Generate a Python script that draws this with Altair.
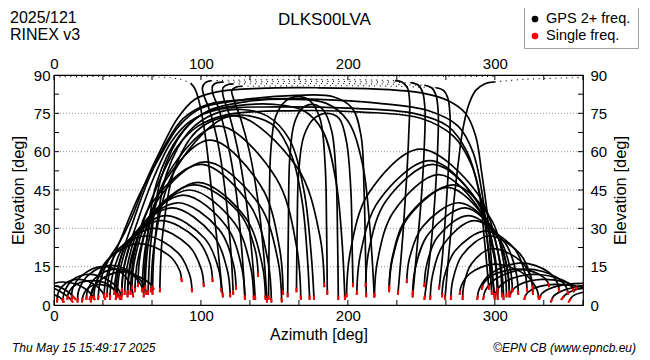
import math
import altair as alt
import pandas as pd

# ---------------- text ----------------
TITLE = "DLKS00LVA"
DOY = "2025/121"
RINEX = "RINEX v3"
LEG_DUAL = "GPS 2+ freq."
LEG_SINGLE = "Single freq."
FOOT_DATE = "Thu May 15 15:49:17 2025"
FOOT_COPY = "©EPN CB (www.epncb.eu)"
X_TITLE = "Azimuth [deg]"
Y_TITLE = "Elevation [deg]"

AZ_LABELS = [0, 100, 200, 300]
EL_LABELS = [0, 15, 30, 45, 60, 75, 90]
GRID_EL = [15, 30, 45, 60, 75]
AZ_TICKS = [0, 33.3, 66.7, 100, 133.3, 166.7, 200, 233.3, 266.7, 300, 333.3, 360]
EL_TICKS = [7.5, 15, 22.5, 30, 37.5, 45, 52.5, 60, 67.5, 75, 82.5]

# ---------------- satellite tracks (azimuth, elevation) ----------------
S1 = [(2,1),(3,5),(8,8.5),(16,10),(26,8.5),(33,5),(35,2)]
S2 = [(6,1),(7,5),(13,10),(24,12),(36,10),(44,6),(46,2)]
S3 = [(12,2),(13,7),(20,12),(32,15),(45,13),(52,8),(54,3)]
S4 = [(16,1),(17,6),(24,12),(38,15.5),(52,13),(61,8),(63,4)]
S5 = [(22,2),(23,6),(29,11),(41,14),(53,12),(59,8),(61,5)]
S6 = [(25,1),(26,6),(32,10),(45,13),(58,11),(66,8),(68,6)]
S7 = [(9,2),(10,5),(15,8),(26,9.5),(37,8),(42,5),(43,3)]
S8 = [(19,1),(20,4),(24,7),(32,8),(40,6.5),(44,4),(45,2)]

E1 = [(0,8.5),(6,9),(16,8),(24,5),(28,2)]
E2 = [(0,7.5),(4,7),(10,5),(15,2)]
E3 = [(0,6.5),(5,5),(10,3),(13,1)]
E4 = [(0,4),(4,3),(7,1)]

A1 = [(27,2),(28.5,8.6),(36,17.4),(57,24),(78,19.5),(85.5,13.5),(87,9)]
A2 = [(30,2),(31.6,9.5),(39.6,19.5),(62,27),(84.4,20.4),(92.4,11.6),(94,5)]
A3 = [(34,3),(35.7,11.1),(44.2,21.9),(68,30),(91.8,23.1),(100.3,13.9),(102,7)]
A4 = [(38,2),(39.7,11.3),(48.2,23.7),(72,33),(97.2,25.8),(106.2,16.2),(108,9)]
A5 = [(41,4),(42.75,13.3),(51.5,25.7),(76,35),(102.6,26),(112.1,14),(114,5)]
A6 = [(43,3),(44.85,13.5),(54.1,27.5),(80,38),(108,27.5),(118,13.5),(120,3)]
A7 = [(46,5),(47.9,15.5),(57.4,29.5),(84,40),(112,29.8),(122,16.2),(124,6)]
A8 = [(48,4),(50,15.7),(60,31.3),(88,43),(117.4,30.7),(127.9,14.3),(130,2)]
A9 = [(50,3),(52.1,15.6),(62.6,32.4),(92,45),(122.8,32.1),(133.8,14.9),(136,2)]
A10 = [(53,6),(55.1,18.3),(65.6,34.7),(95,47),(125.8,36.2),(136.8,21.8),(139,11)]
A11 = [(55,5),(57.15,17.9),(67.9,35.1),(98,48),(130.2,34.2),(141.7,15.8),(144,2)]
A12 = [(52,4),(54.4,19.3),(66.4,39.7),(100,55),(133.6,38.8),(145.6,17.2),(148,1)]
A13 = [(57,7),(59.3,21.7),(70.8,41.3),(103,56),(139.4,39.5),(152.4,17.5),(155,1)]
A14 = [(60,5),(62.3,22.9),(73.8,46.7),(106,64.5),(141,46.4),(153.5,22.2),(156,4)]
A15 = [(62,6),(64.5,25.2),(77,50.8),(112,70),(151.2,49.6),(165.2,22.4),(168,2)]
A16 = [(66,5),(68.8,25.7),(82.8,53.3),(122,74),(165.4,53.9),(180.9,27.1),(184,7)]
A17 = [(64,4),(66,25),(73,50),(88,68),(105,76),(130,79.5),(160,80.5),(185,79),(200,72),(210,55),(215,30),(218,3)]
A18 = [(61,3),(63,24),(70,48),(85,66),(102,75),(125,78),(150,78.5),(170,76),(183,68),(192,48),(196,25),(198,2)]
A19 = [(67,4),(69,27),(77,52),(92,68),(110,75),(128,76.5),(145,74),(160,65),(170,45),(175,20),(177,2)]
A20 = [(72,5),(74,28),(82,53),(97,68),(115,73.5),(133,74),(150,70),(162,58),(169,40),(172.5,18),(174,2)]

C1 = [(146,2),(146.5,30),(147.5,60),(151,74),(158,80),(166,81.5),(174,80),(181,73),(184.5,55),(185.5,30),(186,4)]
C2 = [(159,3),(159.5,30),(160.5,58),(163.5,71),(169,77),(176,78.5),(183,76.5),(189,68),(192,50),(193,25),(193.5,2)]
C4 = [(165,5),(165.5,30),(166.5,52),(170,66),(177,73),(186,75),(194,73),(199,64),(202,45),(203,20),(203.5,7)]

H1 = [(42,2),(44,15),(54,33),(65,50),(76,63),(88,73),(105,78.5),(140,80.5),(180,80.5),(220,79),(255,76),(275,70),(285,60),(291,45),(295,25),(298,4)]
H2 = [(46,3),(48,16),(57,33),(68,50),(80,64),(93,72),(112,76.5),(150,77.5),(200,77),(245,75),(268,70),(281,60),(289,45),(293,25),(296,6)]
H3 = [(50,4),(52,17),(61,33),(72,49),(84,62),(98,70),(118,74.5),(160,76),(210,75.5),(250,73),(272,66),(284,55),(291,40),(296,20),(300,3)]
H4 = [(36,3),(38,14),(47,28),(58,43),(72,58),(85,70),(100,77),(125,80),(165,82),(190,81.5),(203,77),(209,66),(211,45),(212,20),(212.5,3)]
H5 = [(24,2),(33,14),(45,25),(52,33),(63,49),(72,60),(84,73),(96,80.5),(112,83.5),(140,84.8),(180,85),(220,84.5),(250,83),(268,80),(280,75),(287,66),(291,52),(295,35),(298,15),(300,2)]

O1L = [(122,4),(120.5,20),(117,42),(112,62),(106,76),(102,82),(101,85),(103,87),(107,87.8)]
O1T = [(107,87.8),(150,88.2),(200,88.2),(232,87.8)]
O1R = [(232,87.8),(237,87.2),(240.5,85),(242,80),(241.5,68),(240,50),(237.5,28),(234,4)]
O2L = [(130,2),(128,20),(124,44),(118,64),(112,77),(108,83),(108,85.8),(111,87),(115,87.2)]
O2T = [(115,87.2),(160,87.5),(210,87.4),(243,87)]
O2R = [(243,87),(248,86),(251,83),(252.5,76),(252,62),(250,42),(247,22),(244,3)]
O3L = [(137,2),(135,18),(131,40),(125,61),(119,75),(115,82),(115,85),(118,86.2),(122,86.5)]
O3T = [(122,86.5),(170,86.7),(220,86.5),(252,86)]
O3R = [(252,86),(257,85),(260,82),(261.5,75),(261,60),(259,40),(256,20),(252,2)]
O4L = [(145,1),(143,18),(139,40),(133,60),(127,73),(122,81),(121,84),(124,85.3),(128,85.6)]
O4T = [(128,85.6),(180,85.8),(230,85.6),(260,85)]
O4R = [(260,85),(265,84),(268,81),(269.5,74),(269,60),(267,40),(264.5,20),(262,6)]

D1T = [(0,89.3),(40,89.4),(72,89.2),(86,88.3),(93,86.8)]
D1L = [(93,86.8),(96,84.5),(99,79),(103,66),(107,46),(111,25),(114,8),(115,3)]
DT5 = [(100,89.5),(150,89.6),(250,89.6),(300,89.4)]

ZR1 = [(266,2),(269,22),(272,40),(275,55),(278,68),(282,78),(287,84),(293,86.5),(300,87.3)]
ZR1T = [(300,87.3),(320,88.3),(345,88.8),(360,89)]

B1 = [(199,3),(201.5,20.4),(214,43.6),(249,61),(288.2,43.6),(302.2,20.4),(305,3)]
B2 = [(206,4),(208.5,19.8),(221,40.8),(256,56.5),(288.2,40.2),(299.7,18.4),(302,2)]
B3 = [(212,7),(214.3,21.4),(225.8,40.6),(258,55),(288.8,40),(299.8,20),(302,5)]
B4 = [(218,3),(220.2,17.4),(231.2,36.6),(262,51),(290,36.9),(300,18.1),(302,4)]
B5 = [(228,5),(230.2,17.6),(241.2,34.4),(272,47),(297.2,33.8),(306.2,16.2),(308,3)]
B6 = [(228,6),(230,18),(240,34),(268,46),(294.6,32.8),(304.1,15.2),(306,2)]
B7 = [(240,8.6),(241.8,18),(250.8,30.6),(276,40),(299.8,29.2),(308.3,14.8),(310,4)]
B8 = [(244,4),(245.8,14.2),(254.8,27.8),(280,38),(301,27.5),(308.5,13.5),(310,3)]
B9 = [(252,7),(253.5,15.4),(261,26.6),(282,35),(303,26),(310.5,14),(312,5)]
B10 = [(256,2),(257.5,11.3),(265,23.7),(286,33),(307,24.3),(314.5,12.7),(316,4)]
B11 = [(264,3),(265.5,10.8),(273,21.2),(294,29),(313.6,21.8),(320.6,12.2),(322,5)]
B12 = [(270,2),(271.3,9.5),(277.8,19.5),(296,27),(317,20.1),(324.5,10.9),(326,4)]
B13 = [(278,2),(279,8),(284,16),(298,22),(317.6,17.2),(324.6,10.8),(326,6)]
B14 = [(288,2),(289.5,6.4),(297,12.2),(318,16.5),(336.2,13),(342.7,8.5),(344,5)]
B15 = [(292,2),(293.5,5.6),(301,10.4),(322,14),(341.6,11),(348.6,7),(350,4)]
B16 = [(300,3),(301.3,5.7),(307.8,9.3),(326,12),(345.6,9.9),(352.6,7.1),(354,5)]
B17 = [(310,3),(311.1,5.1),(316.6,7.9),(332,10),(348.8,8.8),(354.8,7.2),(356,6)]
B18 = [(320,2),(320.9,3.8),(325.4,6.2),(338,8),(353.4,7.6),(358.9,7),(360,6.5)]
B19 = [(291,6),(292.2,8.4),(298.2,11.6),(315,14),(330.4,11.9),(335.9,9.1),(337,7)]
B20 = [(276,4),(277.2,7.6),(283.2,12.4),(300,16),(321,11.8),(328.5,6.2),(330,2)]

R1 = [(330,2),(332,4.5),(340,7),(350,8.2),(360,8.5)]
R2 = [(338,1),(340,3.5),(348,6),(360,7.5)]
R3 = [(345,2),(348,4),(355,6),(360,6.5)]
R4 = [(350,1),(353,3.5),(360,5)]

SOLID = [
    ("S1", S1), ("S2", S2), ("S3", S3), ("S4", S4), ("S5", S5), ("S6", S6), ("S7", S7), ("S8", S8),
    ("E1", E1), ("E2", E2), ("E3", E3), ("E4", E4),
    ("A1", A1), ("A2", A2), ("A3", A3), ("A4", A4), ("A5", A5), ("A6", A6), ("A7", A7), ("A8", A8),
    ("A9", A9), ("A10", A10), ("A11", A11), ("A12", A12), ("A13", A13), ("A14", A14), ("A15", A15),
    ("A16", A16), ("A17", A17), ("A18", A18), ("A19", A19), ("A20", A20),
    ("C1", C1), ("C2", C2), ("C4", C4),
    ("H1", H1), ("H2", H2), ("H3", H3), ("H4", H4), ("H5", H5),
    ("O1L", O1L), ("O1R", O1R), ("O2L", O2L), ("O2R", O2R), ("O3L", O3L), ("O3R", O3R),
    ("O4L", O4L), ("O4R", O4R), ("D1L", D1L), ("ZR1", ZR1),
    ("B1", B1), ("B2", B2), ("B3", B3), ("B4", B4), ("B5", B5), ("B6", B6), ("B7", B7), ("B8", B8),
    ("B9", B9), ("B10", B10), ("B11", B11), ("B12", B12), ("B13", B13), ("B14", B14), ("B15", B15),
    ("B16", B16), ("B17", B17), ("B18", B18), ("B19", B19), ("B20", B20),
    ("R1", R1), ("R2", R2), ("R3", R3), ("R4", R4),
]
DOTTED = [("O1T", O1T), ("O2T", O2T), ("O3T", O3T), ("O4T", O4T), ("D1T", D1T), ("DT5", DT5), ("ZR1T", ZR1T)]

W, H = 529, 230
AZ_MAX, EL_MAX = 360, 90

def to_rows(group):
    rows = []
    for name, pts in group:
        for k, (a, e) in enumerate(pts):
            rows.append({"track": name, "i": k, "az": a, "el": e})
    return rows

solid_df = pd.DataFrame(to_rows(SOLID))
dot_df = pd.DataFrame(to_rows(DOTTED))

# red (single frequency) pieces at the low ends of each track
red_rows = []
for name, pts in SOLID:
    for end, nb in ((pts[0], pts[1]), (pts[-1], pts[-2])):
        if end[1] < 14 and 0 < end[0] < AZ_MAX:
            dx = (nb[0] - end[0]) * W / AZ_MAX
            dy = (nb[1] - end[1]) * H / EL_MAX
            d = math.hypot(dx, dy)
            f = min(1.0, 4.5 / d) if d > 0 else 0
            seg = f"{name}_{end[0]}"
            red_rows.append({"seg": seg, "i": 0, "az": end[0], "el": end[1]})
            red_rows.append({"seg": seg, "i": 1, "az": end[0] + f * (nb[0] - end[0]),
                             "el": end[1] + f * (nb[1] - end[1])})
red_df = pd.DataFrame(red_rows)

FONT = "Liberation Sans"
xs = alt.Scale(domain=[0, AZ_MAX], nice=False, zero=False)
ys = alt.Scale(domain=[0, EL_MAX], nice=False, zero=False)

grid = alt.Chart(pd.DataFrame({"el": GRID_EL})).mark_rule(
    color="#999999", strokeDash=[1, 2], strokeWidth=1
).encode(y=alt.Y("el:Q", scale=ys, axis=None), x=alt.value(0), x2=alt.value(W))

tracks = alt.Chart(solid_df).mark_line(
    interpolate="catmull-rom", color="black", strokeWidth=1.7, clip=True
).encode(
    x=alt.X("az:Q", scale=xs, axis=alt.Axis(
        orient="bottom", values=AZ_LABELS, title=X_TITLE, ticks=False, domain=False, grid=False,
        labelFontSize=15, titleFontSize=16, labelPadding=3, labelFlush=False,
        titleX=W / 2, titleY=29, titleBaseline="middle")),
    y=alt.Y("el:Q", scale=ys, axis=alt.Axis(
        orient="left", values=EL_LABELS, title=Y_TITLE, ticks=False, domain=False, grid=False,
        labelFontSize=15, titleFontSize=16.5, labelPadding=4, labelFlush=False,
        titleX=-36, titleY=H / 2, titleAngle=270, titleBaseline="middle", titleAlign="center")),
    detail="track:N",
    order="i:Q",
)

dots = alt.Chart(dot_df).mark_line(
    interpolate="catmull-rom", color="black", strokeWidth=1.1, strokeDash=[1, 4.5], clip=True
).encode(
    x=alt.X("az:Q", scale=xs, axis=None),
    y=alt.Y("el:Q", scale=ys, axis=None),
    detail="track:N", order="i:Q",
)

red = alt.Chart(red_df).mark_line(color="#ff0000", strokeWidth=2, clip=True).encode(
    x=alt.X("az:Q", scale=xs, axis=None),
    y=alt.Y("el:Q", scale=ys, axis=None),
    detail="seg:N", order="i:Q",
)

xt = pd.DataFrame({"az": AZ_TICKS})
ticks_bottom = alt.Chart(xt).mark_rule(color="black").encode(
    x=alt.X("az:Q", scale=xs, axis=alt.Axis(
        orient="top", values=AZ_LABELS, title=None, ticks=False, domain=False, grid=False,
        labelFontSize=15, labelPadding=4, labelFlush=False)),
    y=alt.value(H), y2=alt.value(H - 5))
ticks_top = alt.Chart(xt).mark_rule(color="black").encode(
    x=alt.X("az:Q", scale=xs, axis=None), y=alt.value(0), y2=alt.value(5))

yt = pd.DataFrame({"el": EL_TICKS})
ticks_left = alt.Chart(yt).mark_rule(color="black").encode(
    y=alt.Y("el:Q", scale=ys, axis=alt.Axis(
        orient="right", values=EL_LABELS, title=Y_TITLE, ticks=False, domain=False, grid=False,
        labelFontSize=15, titleFontSize=16.5, labelPadding=7, labelFlush=False,
        titleX=37, titleY=H / 2, titleAngle=270, titleBaseline="middle", titleAlign="center")),
    x=alt.value(0), x2=alt.value(5))
ticks_right = alt.Chart(yt).mark_rule(color="black").encode(
    y=alt.Y("el:Q", scale=ys, axis=None), x=alt.value(W), x2=alt.value(W - 5))

one = pd.DataFrame({"t": [0]})

def label(txt, x, y, size, align="left", style="normal"):
    return alt.Chart(one).mark_text(
        text=txt, font=FONT, fontSize=size, align=align, baseline="middle",
        fontStyle=style, color="black"
    ).encode(x=alt.value(x), y=alt.value(y))

texts = [
    label(TITLE, 270.5, -55, 17, align="center"),
    label(DOY, -44, -57, 16),
    label(RINEX, -44, -40, 16),
    label(FOOT_DATE, -42, 273, 12, style="italic"),
    label(FOOT_COPY, 582, 273, 12, align="right", style="italic"),
    label(LEG_DUAL, 492, -56, 14.5),
    label(LEG_SINGLE, 492, -39, 14.5),
]

# legend frame
legend_box = alt.Chart(one).mark_rect(
    fill="white", fillOpacity=1, stroke="#a0a0a0", strokeWidth=1, strokeOpacity=1
).encode(x=alt.value(470.5), x2=alt.value(584.5), y=alt.value(-67.5), y2=alt.value(-26.5))
dot_black = alt.Chart(one).mark_circle(size=45, color="black", opacity=1).encode(
    x=alt.value(481), y=alt.value(-56))
dot_red = alt.Chart(one).mark_circle(size=45, color="#ff0000", opacity=1).encode(
    x=alt.value(481), y=alt.value(-39))

chart = alt.layer(
    grid, tracks, dots, red, ticks_bottom, ticks_top, ticks_left, ticks_right,
    legend_box, dot_black, dot_red, *texts
).resolve_axis(x="independent", y="independent").properties(
    width=W, height=H,
    autosize=alt.AutoSizeParams(type="none"),
    padding={"left": 46, "top": 67, "right": 59, "bottom": 52},
).configure_view(stroke="black", strokeWidth=1.2).configure_axis(
    labelFont=FONT, titleFont=FONT, labelColor="black", titleColor="black",
    titleFontWeight="normal",
)

chart.save("out.html", embed_options={"renderer": "svg", "actions": False})
